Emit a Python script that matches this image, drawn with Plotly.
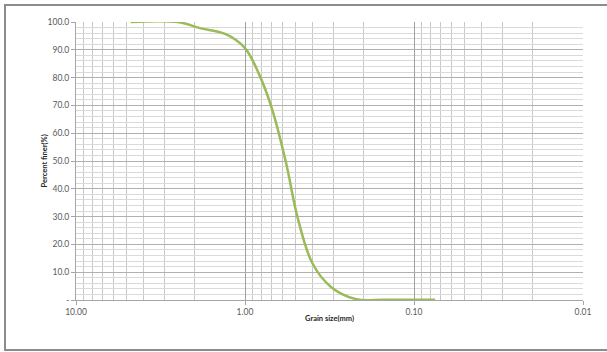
import plotly.graph_objects as go

# Data
grain_size_mm = [4.75, 2.5, 1.85, 1.3, 1.0, 0.82, 0.69, 0.57, 0.49, 0.40, 0.31, 0.22, 0.15, 0.075]
percent_finer = [100.0, 100.0, 97.8, 95.6, 90.6, 80.8, 68.5, 49.0, 30.0, 13.3, 4.7, 0.3, 0.1, 0.1]

x_major = [10, 1, 0.1, 0.01]
x_major_text = ["10.00", "1.00", "0.10", "0.01"]
x_minor = [m * d for d in [1, 0.1, 0.01] for m in range(2, 10)]
y_major = list(range(0, 101, 10))
y_major_text = ["-"] + [f"{v:.1f}" for v in y_major[1:]]

FONT = "Lato, Carlito, Liberation Sans, sans-serif"

fig = go.Figure()
fig.add_trace(go.Scatter(
    x=grain_size_mm, y=percent_finer, mode="lines",
    line=dict(color="#9bbb59", width=2.5, shape="spline", smoothing=1.0),
    showlegend=False, hoverinfo="x+y",
))

L, R, T, B = 76, 24, 22, 52
PW, PH = 607 - L - R, 352 - T - B

fig.update_layout(
    width=607, height=352,
    margin=dict(l=L, r=R, t=T, b=B),
    paper_bgcolor="white", plot_bgcolor="white",
    font=dict(family=FONT, size=8.5, color="#595959"),
    xaxis=dict(
        type="log", range=[1, -2],
        tickmode="array", tickvals=x_major, ticktext=x_major_text,
        showgrid=True, gridcolor="#a0a0a0", gridwidth=1,
        ticks="outside", ticklen=4, tickcolor="#a6a6a6",
        showline=True, linecolor="#a6a6a6", linewidth=1,
        minor=dict(tickmode="array", tickvals=x_minor, showgrid=True,
                   gridcolor="#c8c8c8", gridwidth=1, ticks=""),
        zeroline=False,
        tickfont=dict(size=8.5, color="#595959"),
    ),
    yaxis=dict(
        range=[0, 100],
        tickmode="array", tickvals=y_major, ticktext=y_major_text,
        showgrid=True, gridcolor="#b0b0b0", gridwidth=1,
        ticks="outside", ticklen=4, tickcolor="#a6a6a6",
        showline=True, linecolor="#a6a6a6", linewidth=1,
        minor=dict(dtick=2, showgrid=True, gridcolor="#dadada", gridwidth=1, ticks=""),
        zeroline=False,
        tickfont=dict(size=8.5, color="#595959"),
    ),
    shapes=[dict(type="rect", xref="paper", yref="paper",
                 x0=-(L - 5) / PW, x1=(612 - L) / PW,
                 y0=-(350 - (352 - B)) / PH, y1=((352 - B) - 5) / PH,
                 line=dict(color="#8c8c8c", width=2), fillcolor="rgba(0,0,0,0)",
                 layer="below")],
    annotations=[
        dict(text="<b>Percent finer(%)</b>", xref="paper", yref="paper",
             x=-(L - 37) / PW, y=0.5, textangle=-90, showarrow=False,
             font=dict(size=7.5, color="#262626", family=FONT)),
        dict(text="<b>Grain size(mm)</b>", xref="paper", yref="paper",
             x=(329 - L) / PW, y=-25 / PH, showarrow=False,
             font=dict(size=7.5, color="#262626", family=FONT)),
    ],
)

fig.write_html("out.html", config={"displayModeBar": False},
               post_script="document.body.style.margin='0';document.body.style.padding='0';")
